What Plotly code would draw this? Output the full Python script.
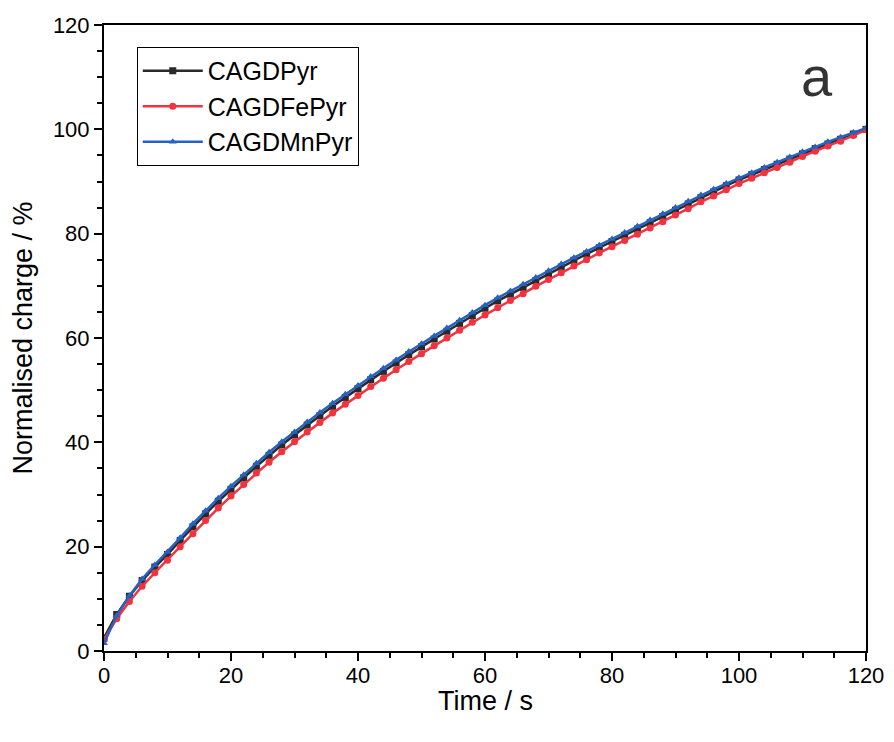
import plotly.graph_objects as go

time_s = list(range(0, 121, 2))

cagdpyr = [2.5, 7.0, 10.5, 13.5, 16.1, 18.5, 21.2, 23.8, 26.3, 28.7, 31.0,
           33.2, 35.4, 37.5, 39.5, 41.4, 43.3, 45.1, 46.9, 48.6, 50.3,
           52.0, 53.6, 55.2, 56.8, 58.3, 59.8, 61.3, 62.8, 64.3, 65.7,
           67.1, 68.4, 69.7, 71.0, 72.3, 73.6, 74.9, 76.1, 77.3, 78.5,
           79.7, 80.9, 82.1, 83.3, 84.5, 85.7, 86.9, 88.0, 89.2, 90.3,
           91.3, 92.3, 93.3, 94.3, 95.3, 96.3, 97.2, 98.1, 99.1, 100.0]

cagdfepyr = [2.2, 6.2, 9.5, 12.4, 15.0, 17.4, 20.0, 22.5, 25.0, 27.4, 29.7,
             31.9, 34.1, 36.2, 38.2, 40.1, 42.0, 43.8, 45.6, 47.3, 49.0,
             50.7, 52.3, 53.9, 55.5, 57.0, 58.5, 60.0, 61.5, 63.0, 64.4,
             65.8, 67.2, 68.5, 69.9, 71.2, 72.5, 73.8, 75.0, 76.3, 77.5,
             78.7, 79.9, 81.1, 82.3, 83.6, 84.8, 86.1, 87.2, 88.4, 89.6,
             90.6, 91.7, 92.7, 93.7, 94.8, 95.8, 96.8, 97.7, 98.8, 99.9]

cagdmnpyr = [1.5, 6.8, 10.6, 13.8, 16.5, 19.0, 21.7, 24.4, 26.9, 29.3, 31.6,
             33.8, 36.0, 38.1, 40.1, 42.0, 43.9, 45.7, 47.5, 49.2, 50.9,
             52.6, 54.2, 55.8, 57.4, 58.9, 60.4, 61.9, 63.4, 64.9, 66.3,
             67.7, 69.0, 70.3, 71.6, 72.9, 74.2, 75.4, 76.6, 77.8, 79.0,
             80.2, 81.4, 82.6, 83.8, 85.0, 86.2, 87.4, 88.5, 89.6, 90.7,
             91.7, 92.7, 93.7, 94.7, 95.7, 96.6, 97.6, 98.5, 99.4, 100.2]

series = [
    ("CAGDPyr", cagdpyr, "#2a2a2a", "square"),
    ("CAGDFePyr", cagdfepyr, "#f2333f", "circle"),
    ("CAGDMnPyr", cagdmnpyr, "#2462c4", "triangle-up"),
]

fig = go.Figure()
for name, vals, color, symbol in series:
    fig.add_trace(go.Scatter(
        x=time_s, y=vals, name=name, mode="lines+markers",
        line=dict(color=color, width=2.5),
        marker=dict(symbol=symbol, size=7, color=color),
    ))

axis_style = dict(
    showline=True, linecolor="black", linewidth=2, mirror=True,
    ticks="outside", ticklen=8, tickwidth=2, tickcolor="black",
    showgrid=False, zeroline=False, automargin=False,
    tickfont=dict(size=22, color="black"),
    minor=dict(ticks="outside", ticklen=5, tickwidth=2, tickcolor="black"),
)

fig.update_xaxes(range=[0, 120], dtick=20, ticklabelstandoff=-4, **axis_style)
fig.update_yaxes(range=[0, 120], dtick=20,
                 title=dict(text="Normalised charge / %", font=dict(size=27), standoff=12), **axis_style)

# x title placed by hand, sits closer to the tick labels than plotly's default
fig.add_annotation(x=0.5, y=-0.08, xref="paper", yref="paper", text="Time / s",
                   showarrow=False, yanchor="middle", font=dict(size=27, color="black"))

# panel label
fig.add_annotation(x=0.959, y=0.972, xref="paper", yref="paper", text="a",
                   showarrow=False, font=dict(size=56, color="#333333"))

# page body adds an 8px margin, so the figure is shifted to match
fig.update_layout(
    width=886, height=734,
    margin=dict(l=96, r=28, t=17, b=91),
    paper_bgcolor="white", plot_bgcolor="white",
    font=dict(family="Liberation Sans, Arial, sans-serif", color="black"),
    legend=dict(x=0.043, y=0.965, xanchor="left", yanchor="top",
                bordercolor="black", borderwidth=1, bgcolor="white",
                font=dict(size=25), tracegroupgap=0, itemwidth=60),
    showlegend=True,
)

fig.write_html("out.html")
